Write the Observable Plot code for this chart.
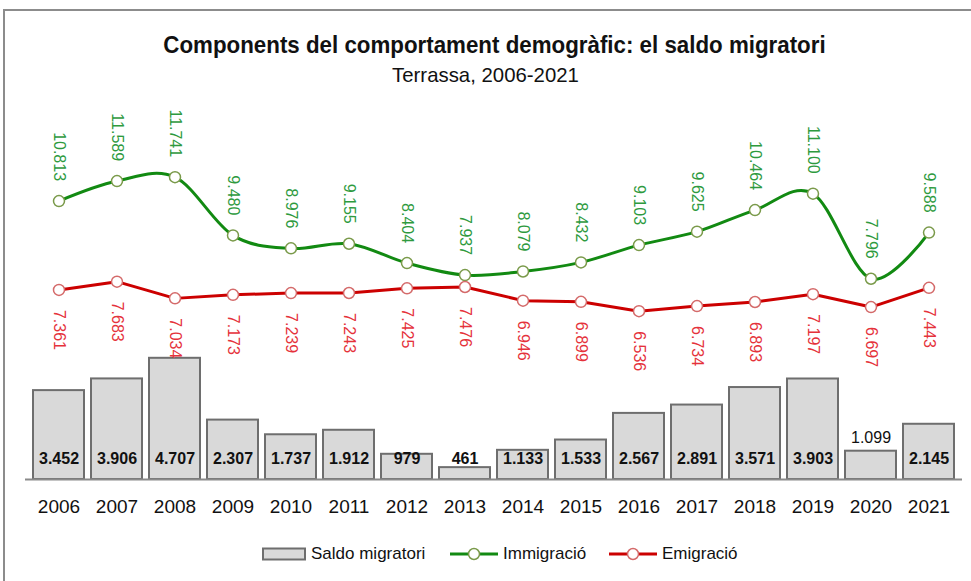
<!DOCTYPE html>
<html>
<head>
<meta charset="utf-8">
<script src="https://cdn.jsdelivr.net/npm/d3@7"></script>
<script src="https://cdn.jsdelivr.net/npm/@observablehq/plot@0.6"></script>
<style>
  html, body { margin: 0; padding: 0; background: #fff; overflow: hidden; }
  #wrap { position: relative; width: 971px; height: 581px; overflow: hidden; font-family: "Liberation Sans", Arial, sans-serif; color: #111; }
  #frame { position: absolute; left: 3px; top: 9px; width: 1000px; height: 600px; border-top: 2px solid #8c8c8c; border-left: 2px solid #8c8c8c; }
  #title { position: absolute; top: 31px; left: 9px; width: 971px; text-align: center; font-size: 24px; font-weight: bold; line-height: 28px; transform: scaleX(0.93); }
  #subtitle { position: absolute; top: 62px; left: 0; width: 971px; text-align: center; font-size: 21px; line-height: 26px; transform: scaleX(0.97); }
  #chart { position: absolute; top: 95px; left: 0; }
  .leg { position: absolute; top: 543px; height: 22px; display: flex; align-items: center; font-size: 17px; }
  .leg svg { margin-right: 5px; }
</style>
</head>
<body>
<div id="wrap">
  <div id="frame"></div>
  <div id="title">Components del comportament demogràfic: el saldo migratori</div>
  <div id="subtitle">Terrassa, 2006-2021</div>
  <div id="chart"></div>
  <div class="leg" style="left:262px"><svg width="44" height="14"><rect x="1" y="1.5" width="42" height="11" fill="#d9d9d9" stroke="#6e6e6e" stroke-width="2"/></svg>Saldo migratori</div>
  <div class="leg" style="left:450px"><svg width="48" height="14"><line x1="0" y1="7" x2="48" y2="7" stroke="#128a12" stroke-width="3"/><circle cx="24" cy="7" r="5.5" fill="#fff" stroke="#7a9a4a" stroke-width="1.5"/></svg>Immigració</div>
  <div class="leg" style="left:609px"><svg width="48" height="14"><line x1="0" y1="7" x2="48" y2="7" stroke="#cc0000" stroke-width="3"/><circle cx="24" cy="7" r="5.5" fill="#fff" stroke="#d46a6a" stroke-width="1.5"/></svg>Emigració</div>
</div>
<script>
const years = [2006, 2007, 2008, 2009, 2010, 2011, 2012, 2013, 2014, 2015, 2016, 2017, 2018, 2019, 2020, 2021];
const immigracio = [10813, 11589, 11741, 9480, 8976, 9155, 8404, 7937, 8079, 8432, 9103, 9625, 10464, 11100, 7796, 9588];
const emigracio = [7361, 7683, 7034, 7173, 7239, 7243, 7425, 7476, 6946, 6899, 6536, 6734, 6893, 7197, 6697, 7443];
const saldo = [3452, 3906, 4707, 2307, 1737, 1912, 979, 461, 1133, 1533, 2567, 2891, 3571, 3903, 1099, 2145];

const fmt = d3.formatLocale({decimal: ",", thousands: ".", grouping: [3], currency: ["", "€"]}).format(",d");

const immData = years.map((y, i) => ({year: y, value: immigracio[i]}));
const emiData = years.map((y, i) => ({year: y, value: emigracio[i]}));
const salData = years.map((y, i) => ({year: y, value: saldo[i]}));

const inside = salData.filter(d => d.year !== 2020);
const outside = salData.filter(d => d.year === 2020);

const chart = Plot.plot({
  width: 971,
  height: 430,
  marginLeft: 25,
  marginRight: 9,
  marginTop: 75,
  marginBottom: 46,
  style: {fontFamily: "'Liberation Sans', Arial, sans-serif", fontSize: "19px", color: "#111", background: "transparent", overflow: "visible"},
  x: {type: "band", domain: years, padding: 0.12, tickSize: 0, tickPadding: 20, label: null, tickFormat: d => String(d)},
  y: {domain: [0, 12000], axis: null},
  marks: [
    Plot.barY(salData, {x: "year", y: "value", fill: "#d9d9d9", stroke: "#6e6e6e", strokeWidth: 2}),
    Plot.ruleY([0], {stroke: "#8a8a8a", strokeWidth: 2}),
    Plot.text(inside, {x: "year", y: 0, text: d => fmt(d.value), dy: -21, fontWeight: "bold", fontSize: 16, fill: "#111"}),
    Plot.text(outside, {x: "year", y: "value", text: d => fmt(d.value), dy: -13, fontSize: 16, fill: "#111"}),
    Plot.line(immData, {x: "year", y: "value", stroke: "#128a12", strokeWidth: 3, curve: "cardinal"}),
    Plot.line(emiData, {x: "year", y: "value", stroke: "#cc0000", strokeWidth: 3}),
    Plot.dot(immData, {x: "year", y: "value", r: 5.5, fill: "white", stroke: "#7a9a4a", strokeWidth: 1.5}),
    Plot.dot(emiData, {x: "year", y: "value", r: 5.5, fill: "white", stroke: "#d46a6a", strokeWidth: 1.5}),
    Plot.text(immData, {x: "year", y: "value", text: d => fmt(d.value), rotate: 90, textAnchor: "end", lineAnchor: "middle", dy: -20, fontSize: 16, fill: "#2e9a3e"}),
    Plot.text(emiData, {x: "year", y: "value", text: d => fmt(d.value), rotate: 90, textAnchor: "start", lineAnchor: "middle", dy: 20, fontSize: 16, fill: "#e5323b"})
  ]
});
document.getElementById("chart").appendChild(chart);
</script>
</body>
</html>
